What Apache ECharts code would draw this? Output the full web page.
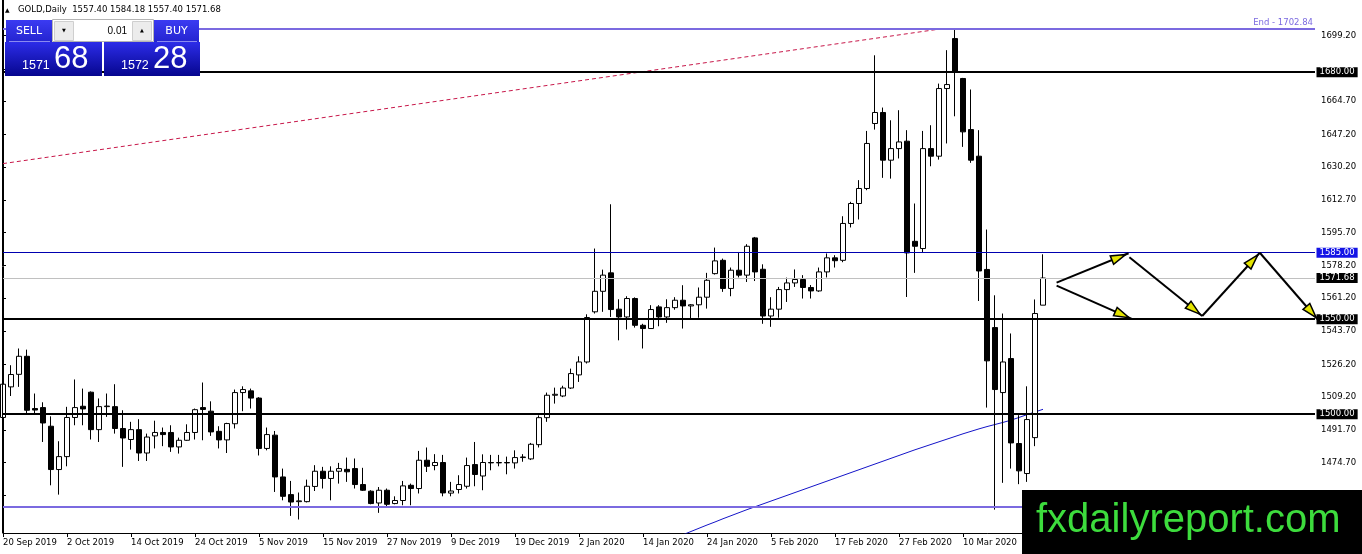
<!DOCTYPE html>
<html><head><meta charset="utf-8">
<script src="https://cdn.jsdelivr.net/npm/echarts@6/dist/echarts.min.js"></script>
<style>html,body{margin:0;padding:0;background:#fff}#c{width:1362px;height:554px}</style>
</head><body><div id="c"></div>
<script>
// ---- trading calendar (categories) ----
const monthNames = ['Sep 2019','Oct 2019','Nov 2019','Dec 2019','Jan 2020','Feb 2020','Mar 2020'];
const monthDays = [
  [20,23,24,25,26,27,30],
  [1,2,3,4,7,8,9,10,11,14,15,16,17,18,21,22,23,24,25,28,29,30,31],
  [1,4,5,6,7,8,11,12,13,14,15,18,19,20,21,22,25,26,27,28,29],
  [2,3,4,5,6,9,10,11,12,13,16,17,18,19,20,23,24,26,27,30,31],
  [2,3,6,7,8,9,10,13,14,15,16,17,20,21,22,23,24,27,28,29,30,31],
  [3,4,5,6,7,10,11,12,13,14,17,18,19,20,21,24,25,26,27,28],
  [2,3,4,5,6,9,10,11,12,13,16,17,18,19,20,23,24]
];
const futureSlots = 34;
const labelEvery = 8;

// ---- OHLC ----
const openP = [1498.3,1514.4,1521,1530.5,1503,1503.5,1493.7,1470.9,1477.7,1498.3,
 1504.2,1511.6,1491.9,1504,1504,1492.5,1486.7,1491.9,1479.6,1488.6,
 1490.4,1490.4,1482.8,1486.3,1490.4,1503.5,1501.6,1491,1486.5,1495,
 1511.4,1512.3,1508.5,1482,1489,1467,1457.7,1454,1454,1462,
 1470,1466.2,1470,1471,1471.4,1463,1459.5,1453.3,1460,1453,
 1454.6,1462.6,1460.9,1475.8,1473,1474.6,1458.5,1460.4,1462.1,1473.5,
 1467.5,1474.6,1474.4,1474.6,1474.4,1477.2,1476.5,1484,1498.2,1510,
 1509.6,1513.8,1520.7,1527.5,1553.9,1564.7,1574.4,1555.3,1551.2,1560.9,
 1546.8,1545.1,1556.5,1551.2,1556.1,1560,1557,1557.6,1561.6,1574,
 1581,1566.2,1575.8,1573.2,1592.8,1576.3,1551.7,1555.3,1565.6,1569.1,
 1570.9,1566.7,1564.9,1574.9,1582.3,1581,1600.4,1610.9,1618.8,1653,
 1658.8,1633.7,1639.8,1643.7,1591,1587.2,1639.8,1635.8,1671.4,1697.7,
 1676.7,1649.8,1635.8,1576.2,1545.6,1511.4,1529.3,1484.6,1468.8,1487.7,
 1557.4];
const highP = [1517,1525.8,1534.6,1534,1510.9,1506.3,1498.9,1485.8,1503.9,1518.3,
 1513.5,1512,1508.3,1510.9,1515.8,1502.1,1496,1497.4,1489.8,1496.6,
 1493,1494.2,1487.7,1494.7,1503,1516.7,1506.8,1493.7,1495.5,1513,
 1514.7,1513.5,1509,1493,1491.2,1471.4,1464.9,1458.8,1465.6,1473.2,
 1472.3,1472.6,1474.4,1477.2,1476.7,1471.8,1460,1461.7,1460.9,1456.8,
 1464.9,1463.5,1480.7,1482.5,1479,1478.6,1464.4,1467.9,1477.2,1485.4,
 1478.9,1478.6,1478.6,1477.7,1481,1479,1484.9,1499.4,1511.4,1514,
 1515,1524,1530.5,1552.6,1587.2,1576.1,1610.5,1560.5,1562.1,1561.5,
 1547.6,1557.4,1557.4,1560.5,1561.6,1567.9,1558,1566.7,1574.4,1587.7,
 1581.9,1577.2,1585.4,1589.5,1593.3,1578.9,1561.6,1567,1571.9,1576.2,
 1573.2,1568,1577.2,1584.6,1583.7,1604.2,1611.8,1623.2,1649.1,1688.9,
 1661.4,1654.7,1660,1649.5,1610.9,1649.1,1652.1,1674,1691.6,1702.8,
 1677,1670.9,1649.5,1597.2,1562.6,1553,1542.5,1499.5,1514.7,1560.4,
 1584.18];
const lowP = [1496,1509.6,1514.4,1500,1500,1485.4,1462.6,1457.7,1472.6,1494.2,
 1494.2,1486.7,1485.4,1498.6,1489.8,1472.3,1481.4,1475.4,1475.4,1482,
 1483.2,1480.2,1479.3,1486,1486.7,1486.3,1488.6,1482,1479.6,1492.5,
 1501.6,1503,1478.3,1481,1459.1,1454.7,1446.5,1444.6,1453.6,1459.6,
 1460.9,1454.7,1463.5,1464.4,1460.9,1459.6,1452.6,1448.1,1451.2,1452.6,
 1452.1,1452.1,1458.3,1469.6,1470.5,1456.8,1456.8,1458.3,1460.9,1462.1,
 1460,1470.5,1472.6,1468.4,1471.4,1475,1475.9,1482.5,1496,1505.6,
 1509,1513.3,1517,1526.7,1553,1553.9,1551.2,1538.9,1544.6,1545.6,
 1534.6,1545,1546.3,1548.1,1555,1545.1,1549.8,1550.8,1555.6,1573.5,
 1564.4,1562.1,1572,1569.6,1570.1,1547.6,1546,1550.8,1559.1,1567,
 1560.9,1560.9,1564.4,1572,1577.2,1580,1598.3,1602.5,1617.9,1649.8,
 1624.4,1624,1634.6,1561.7,1574.4,1584.9,1630.5,1634,1642.5,1656.8,
 1640.7,1632.3,1559.6,1503.5,1449.8,1463.9,1471.4,1463.2,1464.4,1483.2,
 1557.4];
const closeP = [1515.8,1520.9,1530.5,1502.1,1502.2,1495.4,1470.9,1477.7,1498.3,1503.5,
 1502.8,1491.9,1504,1504.3,1492.5,1487.5,1491.9,1479.6,1488,1490.4,
 1489.3,1482.8,1486.3,1490.4,1502.4,1502.5,1490.7,1486.5,1495.1,1511.4,
 1513,1508.5,1482,1489.3,1467,1456.8,1453.8,1454.4,1462.1,1470,
 1466.2,1470,1471.4,1469.7,1463,1460,1453,1460,1452.6,1454.6,
 1462.3,1460.9,1475.8,1472.6,1474.6,1458.6,1459.6,1463,1473,1468.3,
 1474.6,1474.4,1474.6,1474.4,1477.2,1477.5,1484.2,1498.2,1510,1510.5,
 1513.8,1521.4,1527.5,1550.9,1564.7,1573.2,1555.1,1551.2,1560.9,1546.8,
 1545.1,1555.1,1551.2,1556.1,1560,1557,1557.6,1561.6,1570.5,1580.7,
 1566.2,1575.8,1573.2,1588.4,1574.9,1551.7,1555.3,1565.6,1569.1,1570.9,
 1566.7,1564.9,1574.9,1582.3,1580.8,1600.4,1610.9,1618.8,1642.5,1658.8,
 1633.7,1639.8,1643.3,1584.9,1588.4,1639.8,1635.8,1671.4,1673.5,1680.2,
 1648.6,1633.7,1575.4,1528.1,1513,1527.5,1484.9,1470.2,1497.2,1553,
 1571.68];

// ---- moving average (from candle index maStart) ----
const maStart = 85;
const maValues = [1436.6,1438.3,1440.0,1441.7,1443.3,1445.0,1446.6,1448.2,1449.8,1451.3,
 1452.8,1454.3,1455.8,1457.3,1458.8,1460.3,1461.8,1463.3,1464.8,1466.3,
 1467.8,1469.3,1470.8,1472.3,1473.8,1475.3,1476.8,1478.3,1479.8,1481.3,
 1482.7,1484.1,1485.5,1486.9,1488.3,1489.7,1491.0,1492.3,1493.5,1494.6,
 1495.7,1496.9,1498.3,1499.8,1501.2,1502.6];

// ---- price scale ----
const yMin = 1437.5, yMax = 1718.0;
const yTickValues = [1699.2,1681.7,1664.7,1647.2,1630.2,1612.7,1595.7,1578.2,1561.2,1543.7,1526.2,1509.2,1491.7,1474.7,1457.2];
const yLabelValues = [1699.2,1664.7,1647.2,1630.2,1612.7,1595.7,1578.2,1561.2,1543.7,1526.2,1509.2,1491.7,1474.7,1457.2];

// ---- levels / drawings ----
const blackLevels = [1680, 1550, 1500];
const blueLevel = 1585;
const bidLevel = 1571.68;
const endLevel = 1702.84;
const lowLevel = 1451.2;
const trendPoints = [[0, 1631.9], [117.3, 1702.84]];
const arrowSegments = [
  [131.7, 1569.3, 140.7, 1584.7],
  [131.7, 1567.7, 141.1, 1550.2],
  [140.8, 1582.6, 149.9, 1551.7],
  [149.9, 1551.7, 157.1, 1585.0],
  [157.1, 1585.0, 164.4, 1549.6]
];

// ---- build ----
const categories = [];
monthDays.forEach((days, m) => days.forEach(d => categories.push(d + ' ' + monthNames[m])));
for (let k = 0; k < futureSlots; k++) categories.push('');
const lastIndex = categories.length - 1;
const candleData = openP.map((o, i) => [o, closeP[i], lowP[i], highP[i]]);
const maData = maValues.map((v, i) => [maStart + i, v]);
const showIdx = (i) => i % labelEvery === 0 && i <= 128;

const FONT = 'DejaVu Sans';
const endLabel = (bg) => ({
  show: true, position: 'end', distance: 1.5, formatter: p => Number(p.value).toFixed(2),
  color: '#fff', backgroundColor: bg, padding: [1, 3, 0, 3], fontSize: 8.5, fontFamily: FONT
});
const purple = '#7b6ae0';

const chart = echarts.init(document.getElementById('c'), null, { renderer: 'canvas' });
const grad = (a, b) => new echarts.graphic.LinearGradient(0, 0, 0, 1, [{ offset: 0, color: a }, { offset: 1, color: b }]);

chart.setOption({
  animation: false,
  backgroundColor: '#fff',
  grid: { left: 3, right: 47, top: 0, bottom: 21, containLabel: false, outerBoundsMode: 'none' },
  xAxis: [{
    type: 'category', data: categories, boundaryGap: false,
    axisLine: { show: true, lineStyle: { color: '#000', width: 1 } },
    axisTick: { show: true, interval: showIdx, length: 4, lineStyle: { color: '#000' } },
    axisLabel: { interval: showIdx, color: '#000', fontSize: 8.5, fontFamily: FONT, align: 'left', margin: 5 },
    splitLine: { show: false }
  }, {
    type: 'value', min: 0, max: lastIndex, show: false
  }],
  yAxis: [{
    type: 'value', position: 'right', min: yMin, max: yMax, scale: true,
    axisLine: { show: true, lineStyle: { color: '#000', width: 1 } },
    axisTick: { show: true, customValues: yTickValues, length: 3, lineStyle: { color: '#000' } },
    axisLabel: { customValues: yLabelValues, formatter: v => v.toFixed(2), color: '#000', fontSize: 8.5, fontFamily: FONT, margin: 6 },
    splitLine: { show: false }
  }],
  series: [
    {
      type: 'line', xAxisIndex: 1, yAxisIndex: 0, data: trendPoints, symbol: 'none', silent: true,
      lineStyle: { color: '#c8184a', width: 1, type: [4, 3] }, z: 1
    },
    {
      type: 'line', xAxisIndex: 1, yAxisIndex: 0, data: maData, symbol: 'none', silent: true,
      lineStyle: { color: '#1414c8', width: 1 }, z: 2
    },
    {
      type: 'candlestick', xAxisIndex: 0, yAxisIndex: 0, data: candleData, barWidth: 5, clip: false, silent: true,
      itemStyle: { color: '#fff', color0: '#000', borderColor: '#000', borderColor0: '#000', borderWidth: 1 },
      z: 3,
      markLine: {
        symbol: ['none', 'none'], silent: true, animation: false, precision: 2,
        data: [
          { yAxis: endLevel, lineStyle: { color: purple, width: 2, type: 'solid' },
            label: { show: true, position: 'insideEndTop', distance: 2, formatter: 'End - ' + endLevel.toFixed(2), color: purple, fontSize: 8.5, fontFamily: FONT } },
          { yAxis: lowLevel, lineStyle: { color: purple, width: 2, type: 'solid' }, label: { show: false } },
          { yAxis: bidLevel, lineStyle: { color: '#c0c0c0', width: 1, type: 'solid' }, label: endLabel('#000') },
          { yAxis: blueLevel, lineStyle: { color: '#0000b0', width: 1, type: 'solid' }, label: endLabel('#1414e6') },
          ...blackLevels.map(v => ({ yAxis: v, lineStyle: { color: '#000', width: 2, type: 'solid' }, label: endLabel('#000') }))
        ]
      }
    },
    {
      type: 'custom', xAxisIndex: 1, yAxisIndex: 0, data: arrowSegments, clip: false, silent: true, z: 5,
      renderItem: function (params, api) {
        const p1 = api.coord([api.value(0), api.value(1)]);
        const p2 = api.coord([api.value(2), api.value(3)]);
        const dx = p2[0] - p1[0], dy = p2[1] - p1[1];
        const L = Math.hypot(dx, dy), ux = dx / L, uy = dy / L, nx = -uy, ny = ux;
        const tip = [p2[0] - ux * 3, p2[1] - uy * 3];
        const base = [tip[0] - ux * 15, tip[1] - uy * 15];
        return {
          type: 'group', children: [
            { type: 'line', shape: { x1: p1[0], y1: p1[1], x2: p2[0], y2: p2[1] }, style: { stroke: '#000', lineWidth: 2 } },
            { type: 'polygon', shape: { points: [tip, [base[0] + nx * 4.5, base[1] + ny * 4.5], [base[0] - nx * 4.5, base[1] - ny * 4.5]] },
              style: { fill: '#e4e400', stroke: '#000', lineWidth: 1.5 } }
          ]
        };
      }
    }
  ],
  graphic: [
    { type: 'line', z: 50, shape: { x1: 2.5, y1: 0, x2: 2.5, y2: 533 }, style: { stroke: '#000', lineWidth: 1 } },
    // header
    { type: 'text', z: 60, x: 5, y: 10, style: { text: '\u25B2', fontSize: 6, fontFamily: FONT, fill: '#000', verticalAlign: 'middle' } },
    { type: 'text', z: 60, x: 18, y: 10, style: { text: 'GOLD,Daily  1557.40 1584.18 1557.40 1571.68', fontSize: 8.5, fontFamily: FONT, fill: '#000', verticalAlign: 'middle' } },
    // one-click trading panel
    { type: 'rect', z: 60, shape: { x: 5, y: 42, width: 97, height: 34 }, style: { fill: grad('#2c2ce8', '#06068e') } },
    { type: 'rect', z: 60, shape: { x: 104, y: 42, width: 96, height: 34 }, style: { fill: grad('#2c2ce8', '#06068e') } },
    { type: 'rect', z: 61, shape: { x: 6, y: 20, width: 46, height: 22 }, style: { fill: grad('#3b3bf2', '#2424d0') } },
    { type: 'rect', z: 61, shape: { x: 154, y: 20, width: 45, height: 22 }, style: { fill: grad('#3b3bf2', '#2424d0') } },
    { type: 'line', z: 62, shape: { x1: 9, y1: 41.5, x2: 50, y2: 41.5 }, style: { stroke: '#8a8af0', lineWidth: 1 } },
    { type: 'line', z: 62, shape: { x1: 157, y1: 41.5, x2: 197, y2: 41.5 }, style: { stroke: '#8a8af0', lineWidth: 1 } },
    { type: 'text', z: 63, x: 29, y: 31, style: { text: 'SELL', fontSize: 11, fontFamily: FONT, fill: '#fff', align: 'center', verticalAlign: 'middle' } },
    { type: 'text', z: 63, x: 176.5, y: 31, style: { text: 'BUY', fontSize: 11, fontFamily: FONT, fill: '#fff', align: 'center', verticalAlign: 'middle' } },
    { type: 'rect', z: 61, shape: { x: 52.5, y: 19.5, width: 101, height: 22 }, style: { fill: '#fff', stroke: '#b4b4b4', lineWidth: 1 } },
    { type: 'rect', z: 62, shape: { x: 54.5, y: 21.5, width: 19, height: 19 }, style: { fill: '#ececec', stroke: '#cfcfcf', lineWidth: 1 } },
    { type: 'rect', z: 62, shape: { x: 132.5, y: 21.5, width: 19, height: 19 }, style: { fill: '#ececec', stroke: '#cfcfcf', lineWidth: 1 } },
    { type: 'text', z: 63, x: 64, y: 31, style: { text: '\u25BC', fontSize: 5, fontFamily: FONT, fill: '#000', align: 'center', verticalAlign: 'middle' } },
    { type: 'text', z: 63, x: 142, y: 30.5, style: { text: '\u25B2', fontSize: 5, fontFamily: FONT, fill: '#000', align: 'center', verticalAlign: 'middle' } },
    { type: 'text', z: 63, x: 127, y: 31, style: { text: '0.01', fontSize: 10, fontFamily: 'Liberation Sans', fill: '#000', align: 'right', verticalAlign: 'middle' } },
    { type: 'text', z: 63, x: 22, y: 72, style: { text: '1571', fontSize: 12.5, fontFamily: 'Liberation Sans', fill: '#fff', verticalAlign: 'bottom' } },
    { type: 'text', z: 63, x: 54, y: 75, style: { text: '68', fontSize: 31, fontFamily: 'Liberation Sans', fill: '#fff', verticalAlign: 'bottom' } },
    { type: 'text', z: 63, x: 121, y: 72, style: { text: '1572', fontSize: 12.5, fontFamily: 'Liberation Sans', fill: '#fff', verticalAlign: 'bottom' } },
    { type: 'text', z: 63, x: 153, y: 75, style: { text: '28', fontSize: 31, fontFamily: 'Liberation Sans', fill: '#fff', verticalAlign: 'bottom' } },
    // watermark
    { type: 'rect', z: 70, shape: { x: 1022, y: 490, width: 340, height: 64 }, style: { fill: '#000' } },
    { type: 'text', z: 71, x: 1036, y: 521, style: { text: 'fxdailyreport.com', fontSize: 40, fontFamily: 'Liberation Sans', fill: '#3ddc3d', verticalAlign: 'middle' } }
  ]
});
</script>
</body></html>
